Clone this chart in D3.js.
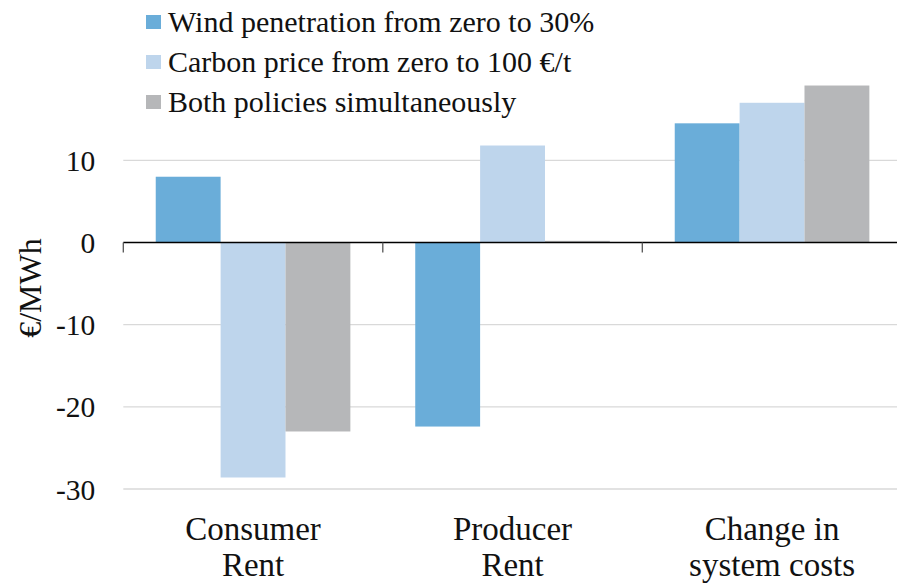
<!DOCTYPE html>
<html><head><meta charset="utf-8">
<script src="https://cdn.jsdelivr.net/npm/d3@7"></script>
<style>body{margin:0;background:#fff}svg{display:block}</style>
</head><body><div id="chart"></div>
<script>
const categories = [["Consumer","Rent"],["Producer","Rent"],["Change in","system costs"]];
const seriesNames = ["Wind penetration from zero to 30%","Carbon price from zero to 100 €/t","Both policies simultaneously"];
const windValues = [8.0, -22.4, 14.5];
const carbonValues = [-28.6, 11.8, 17.0];
const bothValues = [-23.0, 0.2, 19.1];
const yTicks = [-30, -20, -10, 0, 10];
const colors = ["#6aadd9", "#bed5ec", "#b6b7b9"];

const FONT = "'Liberation Serif', 'Times New Roman', Tinos, 'DejaVu Serif', serif";
const W = 897, H = 583;
const svg = d3.select("#chart").append("svg").attr("width", W).attr("height", H)
  .style("font-family", FONT);
const x0 = 123.3, x1 = 901.8;
const y = d3.scaleLinear().domain([-30, 10]).range([489, 160.3]);
const x = d3.scaleBand().domain(d3.range(categories.length)).range([x0, x1]).paddingInner(0).paddingOuter(0);
const xs = d3.scaleBand().domain(d3.range(3)).range([0, x.bandwidth()]).paddingOuter(0.5).paddingInner(0);

// gridlines
svg.append("g").selectAll("line").data(yTicks.filter(d => d !== 0)).join("line")
  .attr("x1", x0).attr("x2", W).attr("y1", d => y(d)).attr("y2", d => y(d))
  .attr("stroke", "#d9d9d9").attr("stroke-width", 1.3);

// y tick labels
const yAxis = d3.axisLeft(y).tickValues(yTicks).tickSize(0).tickPadding(28).tickFormat(d => String(d));
const ga = svg.append("g").attr("transform", `translate(${x0},0)`).call(yAxis);
ga.attr("font-family", null).attr("font-size", null);
ga.select(".domain").remove();
ga.selectAll("text").style("font-family", FONT).attr("font-size", 29.5).attr("fill", "#111").attr("dy", "0.34em");

// bars
const series = [windValues, carbonValues, bothValues];
series.forEach((vals, si) => {
  svg.append("g").selectAll("rect").data(vals).join("rect")
    .attr("x", (d, i) => x(i) + xs(si))
    .attr("width", xs.bandwidth())
    .attr("y", d => y(Math.max(0, d)))
    .attr("height", d => Math.abs(y(d) - y(0)))
    .attr("fill", colors[si]);
});

// x axis at zero
const xAxisG = svg.append("g");
xAxisG.append("line").attr("x1", x0).attr("x2", W).attr("y1", y(0)).attr("y2", y(0)).attr("stroke", "#000").attr("stroke-width", 1.3);
xAxisG.selectAll("line.tick").data(d3.range(categories.length + 1)).join("line").attr("class", "tick")
  .attr("x1", i => x0 + i * x.bandwidth()).attr("x2", i => x0 + i * x.bandwidth())
  .attr("y1", y(0)).attr("y2", y(0) + 10).attr("stroke", "#555").attr("stroke-width", 1.3);

// category labels
const cl = svg.append("g").selectAll("text").data(categories).join("text")
  .attr("x", (d, i) => x(i) + x.bandwidth() / 2).attr("y", 540)
  .attr("text-anchor", "middle").attr("font-size", 33).attr("fill", "#111");
cl.selectAll("tspan").data(d => d).join("tspan")
  .attr("x", function() { return d3.select(this.parentNode).attr("x"); })
  .attr("dy", (d, i) => i === 0 ? 0 : 36).text(d => d);

// y label
svg.append("text").attr("transform", "translate(41,288) rotate(-90)")
  .attr("text-anchor", "middle").attr("font-size", 32).attr("fill", "#111").text("€/MWh");

// legend
const lg = svg.append("g").selectAll("g").data(seriesNames).join("g")
  .attr("transform", (d, i) => `translate(146,${22 + i * 40})`);
lg.append("rect").attr("x", 0).attr("y", -7).attr("width", 15).attr("height", 14).attr("fill", (d, i) => colors[i]);
lg.append("text").attr("x", 22).attr("y", 0).attr("dy", "0.33em").attr("font-size", 30).attr("fill", "#111").text(d => d);
</script></body></html>
